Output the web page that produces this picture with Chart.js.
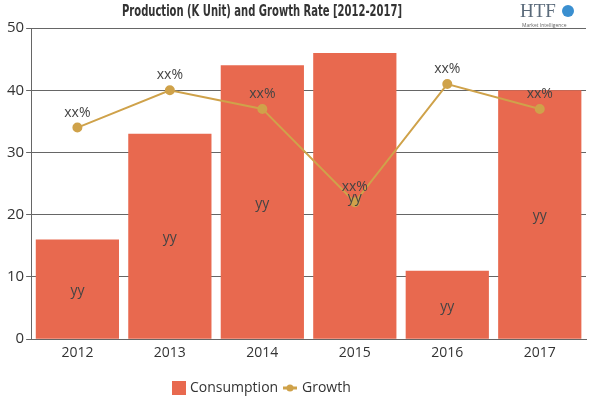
<!DOCTYPE html>
<html>
<head>
<meta charset="utf-8">
<script src="https://cdn.jsdelivr.net/npm/chart.js@4"></script>
<style>
  html, body { margin: 0; padding: 0; background: #fff; }
  #wrap { width: 600px; height: 400px; position: relative; }
</style>
</head>
<body>
<div id="wrap"><canvas id="chart"></canvas></div>
<script>
const years = ["2012", "2013", "2014", "2015", "2016", "2017"];
const consumption = [16, 33, 44, 46, 11, 40];
const growth = [34, 40, 37, 22, 41, 37];
const barLabels = ["yy", "yy", "yy", "yy", "yy", "yy"];
const lineLabels = ["xx%", "xx%", "xx%", "xx%", "xx%", "xx%"];
const yTicks = [0, 10, 20, 30, 40, 50];
const titleText = "Production (K Unit) and Growth Rate [2012-2017]";

const barColor = "#E8694F";
const lineColor = "#CFA24A";

// draws the "yy" / "xx%" labels, title, legend and the small logo
const labelPlugin = {
  id: "labels",
  afterDatasetsDraw(chart) {
    const ctx = chart.ctx;
    ctx.save();
    ctx.font = "14px 'Open Sans', sans-serif";
    ctx.fillStyle = "#444";
    ctx.textAlign = "center";
    ctx.textBaseline = "middle";
    const bars = chart.getDatasetMeta(0).data;
    bars.forEach((b, i) => {
      ctx.fillText(barLabels[i], b.x, (b.y + b.base) / 2 + 2);
    });
    const pts = chart.getDatasetMeta(1).data;
    pts.forEach((p, i) => {
      ctx.fillText(lineLabels[i], p.x, p.y - 15);
    });
    ctx.restore();
  },
  afterDraw(chart) {
    const ctx = chart.ctx;
    ctx.save();
    // title, squeezed to the condensed width of the original
    ctx.textAlign = "center";
    ctx.textBaseline = "middle";
    ctx.fillStyle = "#333";
    ctx.font = "bold 16px 'DejaVu Sans Condensed', sans-serif";
    const tw = ctx.measureText(titleText).width;
    ctx.save();
    ctx.translate(262, 12);
    ctx.scale(280 / tw, 1);
    ctx.fillText(titleText, 0, 0);
    ctx.restore();

    // legend
    const ly = 388;
    ctx.font = "14px 'Open Sans', sans-serif";
    ctx.textAlign = "left";
    ctx.fillStyle = barColor;
    ctx.fillRect(172, ly - 7, 14, 14);
    ctx.fillStyle = "#333";
    ctx.fillText("Consumption", 190, ly);
    ctx.strokeStyle = lineColor;
    ctx.lineWidth = 3;
    ctx.beginPath();
    ctx.moveTo(283, ly);
    ctx.lineTo(297, ly);
    ctx.stroke();
    ctx.fillStyle = lineColor;
    ctx.beginPath();
    ctx.arc(290, ly, 3.5, 0, Math.PI * 2);
    ctx.fill();
    ctx.fillStyle = "#333";
    ctx.fillText("Growth", 302, ly);

    // logo
    ctx.fillStyle = "#5a6a7a";
    ctx.font = "19px 'Liberation Serif', serif";
    ctx.fillText("HTF", 520, 12);
    ctx.beginPath();
    ctx.fillStyle = "#3a8fd0";
    ctx.arc(568, 11, 6, 0, Math.PI * 2);
    ctx.fill();
    ctx.fillStyle = "#666";
    ctx.font = "5px 'Open Sans', sans-serif";
    ctx.fillText("Market Intelligence", 522, 26);
    ctx.restore();
  }
};

new Chart(document.getElementById("chart"), {
  type: "bar",
  data: {
    labels: years,
    datasets: [
      {
        type: "bar",
        label: "Consumption",
        data: consumption,
        backgroundColor: barColor,
        barPercentage: 0.9,
        categoryPercentage: 1.0,
        order: 2
      },
      {
        type: "line",
        label: "Growth",
        data: growth,
        borderColor: lineColor,
        backgroundColor: lineColor,
        borderWidth: 2,
        pointRadius: 4,
        pointHoverRadius: 4,
        order: 1
      }
    ]
  },
  options: {
    responsive: true,
    maintainAspectRatio: false,
    animation: false,
    layout: { padding: { left: 5, right: 14, top: 28, bottom: 34 } },
    plugins: {
      title: { display: false },
      legend: { display: false },
      tooltip: { enabled: false }
    },
    scales: {
      x: {
        grid: { display: false, drawTicks: false },
        border: { color: "#666" },
        ticks: { font: { family: "'Open Sans', sans-serif", size: 14 }, color: "#333", padding: 5 }
      },
      y: {
        min: 0,
        max: 50,
        afterBuildTicks(axis) { axis.ticks = yTicks.map(v => ({ value: v })); },
        grid: { color: "#666", tickLength: 5 },
        border: { color: "#666" },
        ticks: { font: { family: "'Open Sans', sans-serif", size: 15 }, color: "#333", padding: 2 }
      }
    }
  },
  plugins: [labelPlugin]
});
</script>
</body>
</html>
